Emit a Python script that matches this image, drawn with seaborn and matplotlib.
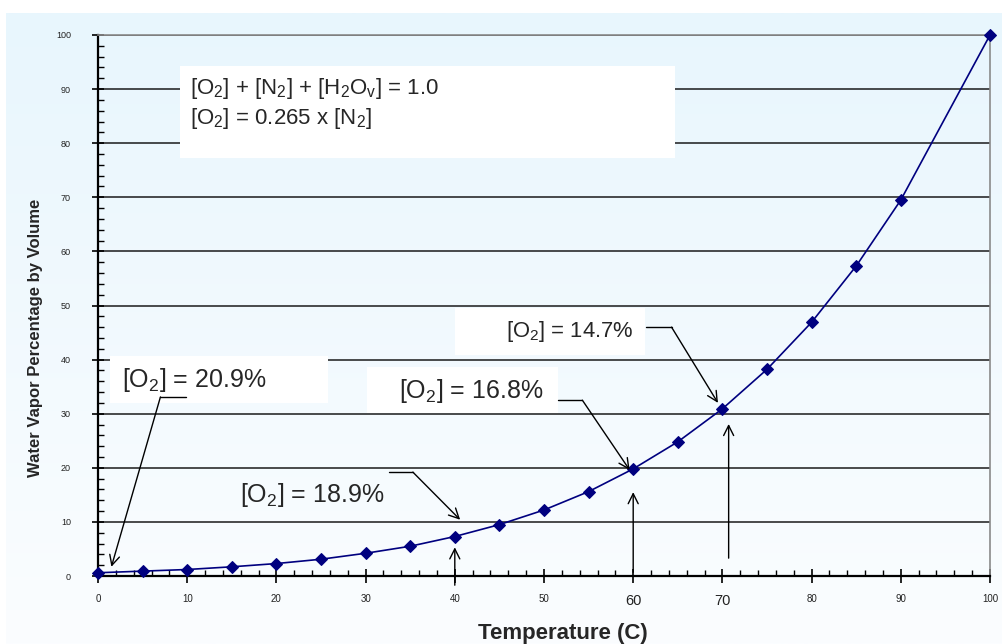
import numpy as np
import pandas as pd
import matplotlib
matplotlib.use("Agg")
import matplotlib.pyplot as plt
import seaborn as sns
from matplotlib.patches import Rectangle
from matplotlib.ticker import MultipleLocator

# ---------------- data ----------------
temperature = [0, 5, 10, 15, 20, 25, 30, 35, 40, 45, 50, 55, 60, 65, 70, 75, 80, 85, 90, 100]
vapor_pct = [0.6, 0.9, 1.2, 1.7, 2.3, 3.1, 4.2, 5.5, 7.3, 9.5, 12.2, 15.6, 19.8, 24.8,
             30.9, 38.2, 46.9, 57.3, 69.5, 100.0]
x_ticks = [0, 10, 20, 30, 40, 50, 60, 70, 80, 90, 100]
x_tick_labels = ["0", "10", "20", "30", "40", "50", "60", "70", "80", "90", "100"]
y_ticks = [0, 10, 20, 30, 40, 50, 60, 70, 80, 90, 100]
y_tick_labels = ["0", "10", "20", "30", "40", "50", "60", "70", "80", "90", "100"]
big_x_labels = ["60", "70"]
eq_line1 = r"[O$_2$] + [N$_2$] + [H$_2$O$_\mathregular{v}$] = 1.0"
eq_line2 = r"[O$_2$] = 0.265 x [N$_2$]"
o2_labels = [r"[O$_2$] = 20.9%", r"[O$_2$] = 18.9%", r"[O$_2$] = 16.8%", r"[O$_2$] = 14.7%"]

df = pd.DataFrame({"Temperature (C)": temperature, "Water Vapor": vapor_pct})

# ---------------- style ----------------
sns.set_style("white")
plt.rcParams["font.family"] = ["Liberation Sans", "DejaVu Sans"]
plt.rcParams["mathtext.fontset"] = "custom"
plt.rcParams["mathtext.rm"] = "Liberation Sans"
plt.rcParams["mathtext.it"] = "Liberation Sans:italic"
plt.rcParams["mathtext.bf"] = "Liberation Sans:bold"
plt.rcParams["mathtext.default"] = "regular"

W, H = 1003, 644
fig = plt.figure(figsize=(W / 100, H / 100), dpi=100, facecolor="white")

# light-blue gradient background panel
bg = fig.add_axes([6 / W, 0, 1 - 6 / W, 1 - 13 / H], zorder=0)
top = np.array([232, 246, 253]) / 255
bot = np.array([251, 253, 255]) / 255
t = np.linspace(0, 1, 256)[:, None]
grad = (top[None, :] * (1 - t) + bot[None, :] * t)[:, None, :]
bg.imshow(grad, aspect="auto", extent=[0, 1, 0, 1], origin="upper")
bg.set_axis_off()

ax = fig.add_axes([98 / W, 1 - 576 / H, (990 - 98) / W, (576 - 35) / H], zorder=1)
ax.patch.set_alpha(0)

sns.lineplot(data=df, x="Temperature (C)", y="Water Vapor", ax=ax, color="#00007f",
             marker="D", markersize=6.5, markeredgecolor="#00007f", linewidth=1.2,
             zorder=4, clip_on=False)

ax.set_xlim(0, 100)
ax.set_ylim(0, 100)
ax.set_xticks(x_ticks, labels=x_tick_labels)
ax.set_yticks(y_ticks, labels=y_tick_labels)
ax.xaxis.set_minor_locator(MultipleLocator(2))
ax.yaxis.set_minor_locator(MultipleLocator(2))
ax.tick_params(axis="x", which="major", direction="inout", length=10, width=1.2,
               labelsize=7, pad=8, colors="black", labelcolor="#222222")
ax.tick_params(axis="y", which="major", direction="inout", length=9, width=1.2,
               labelsize=6.5, pad=15, colors="black", labelcolor="#222222")
ax.tick_params(which="minor", direction="in", length=4.5, width=1, colors="black")
ax.tick_params(bottom=True, left=True, which="both")
for lab in ax.get_xticklabels():
    if lab.get_text() in big_x_labels:
        lab.set_fontsize(10.5)

# grid lines
ax.set_axisbelow(True)
ax.yaxis.grid(True, color="#1a1a1a", linewidth=1.1)
ax.xaxis.grid(False)
for s in ["left", "bottom"]:
    ax.spines[s].set_color("black")
    ax.spines[s].set_linewidth(1.6)
for s in ["top", "right"]:
    ax.spines[s].set_color("#8a8a8a")
    ax.spines[s].set_linewidth(1.2)

ax.set_xlabel("Temperature (C)", fontsize=16, fontweight="bold")
ax.set_ylabel("Water Vapor Percentage by Volume", fontsize=12, fontweight="bold")
ax.xaxis.set_label_coords(0.521, -0.087)
ax.yaxis.set_label_coords(-0.062, 0.44)

# white annotation boxes (data coordinates)
def box(x0, x1, y0, y1):
    ax.add_patch(Rectangle((x0, y0), x1 - x0, y1 - y0, facecolor="white",
                           edgecolor="none", zorder=1))

box(9.2, 64.7, 77.3, 94.3)
box(1.35, 25.8, 32.0, 40.7)
box(30.2, 51.6, 30.1, 38.6)
box(40.0, 61.3, 40.9, 49.5)

ax.text(10.3, 89.1, eq_line1, fontsize=16, va="baseline", ha="left", zorder=5)
ax.text(10.3, 83.5, eq_line2, fontsize=16, va="baseline", ha="left", zorder=5)

ax.text(2.7, 34.9, o2_labels[0], fontsize=18, va="baseline", ha="left", zorder=5)
ax.text(15.9, 13.7, o2_labels[1], fontsize=18, va="baseline", ha="left", zorder=5)
ax.text(33.7, 32.9, o2_labels[2], fontsize=18, va="baseline", ha="left", zorder=5)
ax.text(45.7, 44.2, o2_labels[3], fontsize=15.8, va="baseline", ha="left", zorder=5)

arrow_kw = dict(arrowstyle="->", lw=1.0, color="black", shrinkA=0, shrinkB=0,
                mutation_scale=18)

def leader(x_start, x_corner, y_level, tip):
    ax.plot([x_start, x_corner], [y_level, y_level], color="black", lw=1.0, zorder=5)
    ax.annotate("", xy=tip, xytext=(x_corner, y_level), arrowprops=arrow_kw,
                zorder=5, annotation_clip=False)

leader(9.9, 7.0, 33.1, (1.5, 1.7))
leader(32.6, 35.3, 19.2, (40.6, 10.4))
leader(51.6, 54.3, 32.5, (59.6, 19.6))
leader(61.4, 64.3, 46.0, (69.5, 32.0))

# vertical arrows
for xv, y0, y1 in [(40, -1.7, 5.3), (60, 0.7, 15.5), (70.7, 3.3, 28.1)]:
    ax.annotate("", xy=(xv, y1), xytext=(xv, y0), arrowprops=arrow_kw,
                zorder=5, annotation_clip=False)

fig.savefig("out.png", dpi=100, facecolor="white")
